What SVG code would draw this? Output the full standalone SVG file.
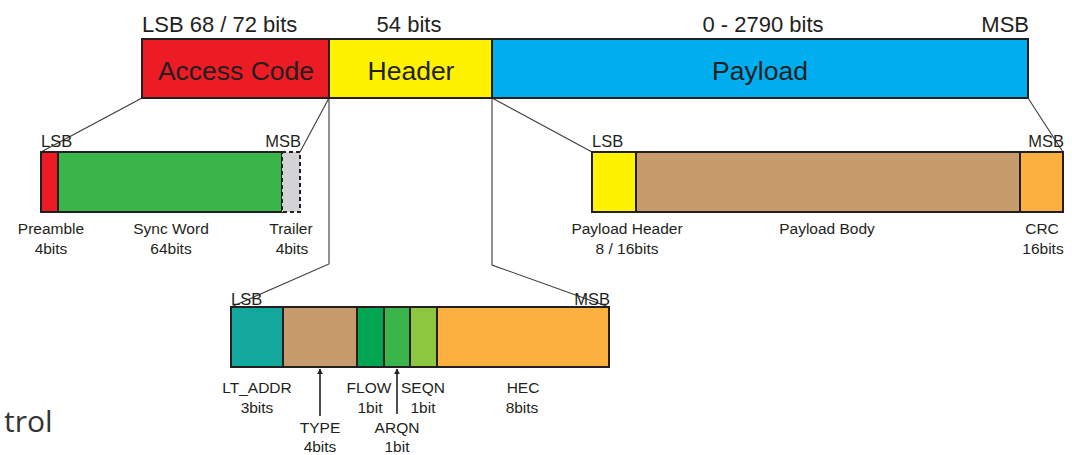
<svg xmlns="http://www.w3.org/2000/svg" width="1072" height="455" viewBox="0 0 1072 455">
  <style>
    text { font-family: "Liberation Sans", Arial, sans-serif; fill: #231f20; }
    .big { font-size: 26.5px; text-anchor: middle; }
    .top { font-size: 22px; }
    .end { font-size: 16.5px; }
    .lbl { font-size: 15.5px; text-anchor: middle; }
    .seg { stroke: #231f20; stroke-width: 2; }
    .link { fill: none; stroke: #3a3a3a; stroke-width: 1.1; }
    .arrow { fill: none; stroke: #231f20; stroke-width: 1.6; marker-end: url(#head); }
  </style>
  <defs>
    <marker id="head" viewBox="0 0 10 10" refX="9" refY="5" markerWidth="6" markerHeight="7" markerUnits="userSpaceOnUse" orient="auto">
      <path d="M0,0 L10,5 L0,10 Z" fill="#231f20"/>
    </marker>
  </defs>
  <rect width="1072" height="455" fill="#ffffff"/>

  <!-- connectors between the packet levels -->
  <g id="connectors">
    <line class="link" x1="142" y1="98" x2="41" y2="152"/>
    <line class="link" x1="329" y1="98" x2="300" y2="152"/>
    <polyline class="link" points="329,98 329,264 231,307"/>
    <line class="link" x1="492" y1="98" x2="592" y2="152"/>
    <polyline class="link" points="492,98 492,265 609,307"/>
    <line class="link" x1="1028" y1="98" x2="1063" y2="152"/>
    <line class="arrow" x1="320" y1="416" x2="320" y2="369"/>
    <line class="arrow" x1="397" y1="414" x2="397" y2="369"/>
  </g>

  <!-- top-level packet -->
  <g id="packet">
    <rect class="seg" x="142" y="39" width="187" height="59" fill="#ed1c24"/>
    <rect class="seg" x="329" y="39" width="163" height="59" fill="#fff200"/>
    <rect class="seg" x="492" y="39" width="536" height="59" fill="#00aeef"/>
    <text class="big" x="236" y="80">Access Code</text>
    <text class="big" x="411" y="80">Header</text>
    <text class="big" x="760" y="80">Payload</text>
    <text class="top" x="142" y="32">LSB 68 / 72 bits</text>
    <text class="top" x="409" y="32" text-anchor="middle">54 bits</text>
    <text class="top" x="763" y="32" text-anchor="middle">0 - 2790 bits</text>
    <text class="top" x="1029" y="32" text-anchor="end">MSB</text>
  </g>

  <!-- access code breakdown -->
  <g id="access-code">
    <rect class="seg" x="41" y="152" width="17" height="60" fill="#ed1c24"/>
    <rect class="seg" x="58" y="152" width="224" height="60" fill="#39b54a"/>
    <rect x="282" y="152" width="18" height="60" fill="#d1d3d4" stroke="#231f20" stroke-width="2" stroke-dasharray="4,3"/>
    <text class="end" x="41" y="147">LSB</text>
    <text class="end" x="301" y="147" text-anchor="end">MSB</text>
    <text class="lbl" x="51" y="234">Preamble</text>
    <text class="lbl" x="51" y="254">4bits</text>
    <text class="lbl" x="171" y="234">Sync Word</text>
    <text class="lbl" x="171" y="254">64bits</text>
    <text class="lbl" x="291" y="234">Trailer</text>
    <text class="lbl" x="292" y="254">4bits</text>
  </g>

  <!-- payload breakdown -->
  <g id="payload">
    <rect class="seg" x="592" y="152" width="44" height="60" fill="#fff200"/>
    <rect class="seg" x="636" y="152" width="384" height="60" fill="#c69c6d"/>
    <rect class="seg" x="1020" y="152" width="43" height="60" fill="#fbb040"/>
    <text class="end" x="592" y="147">LSB</text>
    <text class="end" x="1064" y="147" text-anchor="end">MSB</text>
    <text class="lbl" x="627" y="234">Payload Header</text>
    <text class="lbl" x="627" y="254">8 / 16bits</text>
    <text class="lbl" x="827" y="234">Payload Body</text>
    <text class="lbl" x="1042" y="234">CRC</text>
    <text class="lbl" x="1043" y="254">16bits</text>
  </g>

  <!-- header breakdown -->
  <g id="header">
    <rect class="seg" x="231" y="307" width="52" height="60" fill="#13a89e"/>
    <rect class="seg" x="283" y="307" width="74" height="60" fill="#c69c6d"/>
    <rect class="seg" x="357" y="307" width="27" height="60" fill="#00a651"/>
    <rect class="seg" x="384" y="307" width="26" height="60" fill="#39b54a"/>
    <rect class="seg" x="410" y="307" width="27" height="60" fill="#8dc63f"/>
    <rect class="seg" x="437" y="307" width="172" height="60" fill="#fbb040"/>
    <text class="end" x="231" y="305">LSB</text>
    <text class="end" x="610" y="305" text-anchor="end">MSB</text>
    <text class="lbl" x="257" y="393">LT_ADDR</text>
    <text class="lbl" x="257" y="413">3bits</text>
    <text class="lbl" x="320" y="433">TYPE</text>
    <text class="lbl" x="320" y="452">4bits</text>
    <text class="lbl" x="369" y="393">FLOW</text>
    <text class="lbl" x="370" y="413">1bit</text>
    <text class="lbl" x="397" y="433">ARQN</text>
    <text class="lbl" x="397" y="452">1bit</text>
    <text class="lbl" x="423" y="393">SEQN</text>
    <text class="lbl" x="423" y="413">1bit</text>
    <text class="lbl" x="523" y="393">HEC</text>
    <text class="lbl" x="522" y="413">8bits</text>
  </g>

  <text x="4" y="432" style="font-family: 'Open Sans', sans-serif; font-size: 30px; fill: #333333;">trol</text>
</svg>
